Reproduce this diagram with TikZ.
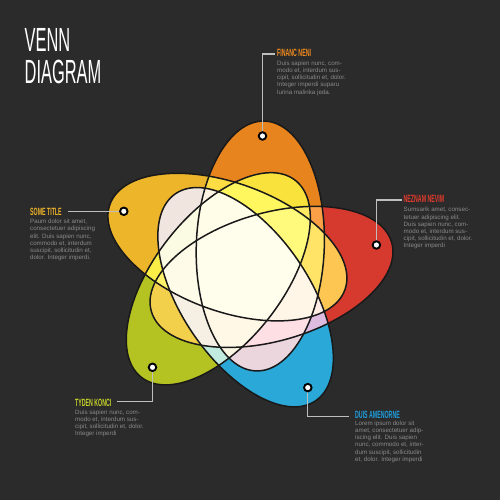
\documentclass[tikz,border=0pt]{standalone}
\usepackage{fontspec}
\setmainfont{Liberation Sans}
\newfontfamily\titlefont[FakeStretch=0.49]{Liberation Sans}
\newfontfamily\headfont[FakeStretch=0.5]{Liberation Sans}
\definecolor{bgc}{HTML}{2B2B2B}
\definecolor{orangeE}{HTML}{E8841E}
\definecolor{redE}{HTML}{D63A2F}
\definecolor{yellowE}{HTML}{EDB52A}
\definecolor{greenE}{HTML}{B4C222}
\definecolor{blueE}{HTML}{2AA8D8}
\definecolor{orangeH}{HTML}{F28C1E}
\definecolor{redH}{HTML}{E23B2B}
\definecolor{yellowH}{HTML}{F0B429}
\definecolor{greenH}{HTML}{C6D42A}
\definecolor{blueH}{HTML}{1E9FE0}
\definecolor{bodyc}{HTML}{8A8A8A}
\definecolor{connc}{HTML}{BEBEBE}
\tikzset{
  outline/.style={draw=black!90, line width=1.5pt},
  conn/.style={draw=connc, line width=1.2pt},
  dot/.style={circle, fill=white, draw=black, line width=1.9pt, minimum size=7.5pt, inner sep=0pt},
  titletext/.style={text=white, inner sep=0pt, font=\titlefont\fontsize{33.5}{33.5}\selectfont},
  headtext/.style={inner sep=0pt, font=\headfont\bfseries\fontsize{10.5}{10.5}\selectfont},
  bodytext/.style={text=bodyc, inner sep=0pt, align=left, font=\fontsize{6.2}{7.2}\selectfont},
}
\begin{document}
\begin{tikzpicture}[x=1pt,y=-1pt]
\useasboundingbox (0,0) rectangle (500,500);
\fill[bgc] (0,0) rectangle (500,500);
% black base so that screen blending keeps pure colours
\foreach \cx/\cy/\ang in {271.5/276.9/16, 260.3/246.0/88, 227.4/247.1/160, 218.3/278.8/232, 245.6/297.2/304}{
  \fill[black, rotate around={\ang:(\cx,\cy)}] (\cx,\cy) ellipse [x radius=125pt, y radius=64pt];
}
\begin{scope}[blend mode=screen]
\foreach \cx/\cy/\ang/\col in {271.5/276.9/16/redE, 260.3/246.0/88/orangeE, 227.4/247.1/160/yellowE, 218.3/278.8/232/greenE, 245.6/297.2/304/blueE}{
  \fill[\col, rotate around={\ang:(\cx,\cy)}] (\cx,\cy) ellipse [x radius=125pt, y radius=64pt];
}
\end{scope}
\foreach \cx/\cy/\ang in {271.5/276.9/16, 260.3/246.0/88, 227.4/247.1/160, 218.3/278.8/232, 245.6/297.2/304}{
  \draw[outline, rotate around={\ang:(\cx,\cy)}] (\cx,\cy) ellipse [x radius=125pt, y radius=64pt];
}
% dots (coordinates first for connectors)
\coordinate (pA) at (376.4,245.0);
\coordinate (pB) at (262.5,136.0);
\coordinate (pC) at (123.8,211.3);
\coordinate (pD) at (152.5,367.3);
\coordinate (pE) at (307.8,387.6);
\coordinate (eA) at (401.7,200.0);
\coordinate (eB) at (275.0,54.0);
\coordinate (eC) at (68.3,211.3);
\coordinate (eD) at (116.7,401.5);
\coordinate (eE) at (349.3,416.5);
\draw[conn] (pA) |- (eA);
\draw[conn] (pB) |- (eB);
\draw[conn] (pC) -- (eC);
\draw[conn] (pD) |- (eD);
\draw[conn] (pE) |- (eE);
\node[dot] (dA) at (pA) {};
\node[dot] (dB) at (pB) {};
\node[dot] (dC) at (pC) {};
\node[dot] (dD) at (pD) {};
\node[dot] (dE) at (pE) {};
% title
\node[titletext, anchor=base west] (t1) at (24.5,52) {VENN};
\node[titletext, anchor=base west] (t2) at (24.5,84) {DIAGRAM};
% orange block
\node[headtext, text=orangeH, anchor=base west] (hB) at (277,56.5) {FINANC NENI};
\node[bodytext, anchor=north west] (bB) at (277,60.7) {Duis sapien nunc, com-\\modo et, interdum sus-\\cipit, sollicitudin et, dolor.\\Integer imperdi suparu\\lurina malinka jeda.};
% red block
\node[headtext, text=redH, anchor=base west] (hA) at (403.5,202) {NEZNAM NEVIM};
\node[bodytext, anchor=north west] (bA) at (403.5,207.2) {Sumsarik amet, consec-\\tetuer adipiscing elit.\\Duis sapien nunc, com-\\modo et, interdum sus-\\cipit, sollicitudin et, dolor.\\Integer imperdi};
% yellow block
\node[headtext, text=yellowH, anchor=base west] (hC) at (30,215.5) {SOME TITLE};
\node[bodytext, anchor=north west] (bC) at (30,219) {Paum dolor sit amet,\\consectetuer adipiscing\\elit. Duis sapien nunc,\\commodo et, interdum\\suscipit, sollicitudin et,\\dolor. Integer imperdi.};
% green block
\node[headtext, text=greenH, anchor=base west] (hD) at (75,406) {TYDEN KONCI};
\node[bodytext, anchor=north west] (bD) at (75,409.7) {Duis sapien nunc, com-\\modo et, interdum sus-\\cipit, sollicitudin et, dolor.\\Integer imperdi};
% blue block
\node[headtext, text=blueH, anchor=base west] (hE) at (355,418) {DUIS AMENORNE};
\node[bodytext, anchor=north west] (bE) at (355,420.7) {Lorem ipsum dolor sit\\amet, consectetuer adip-\\iscing elit. Duis sapien\\nunc, commodo et, inter-\\dum suscipit, sollicitudin\\et, dolor. Integer imperdi};
\end{tikzpicture}
\end{document}
